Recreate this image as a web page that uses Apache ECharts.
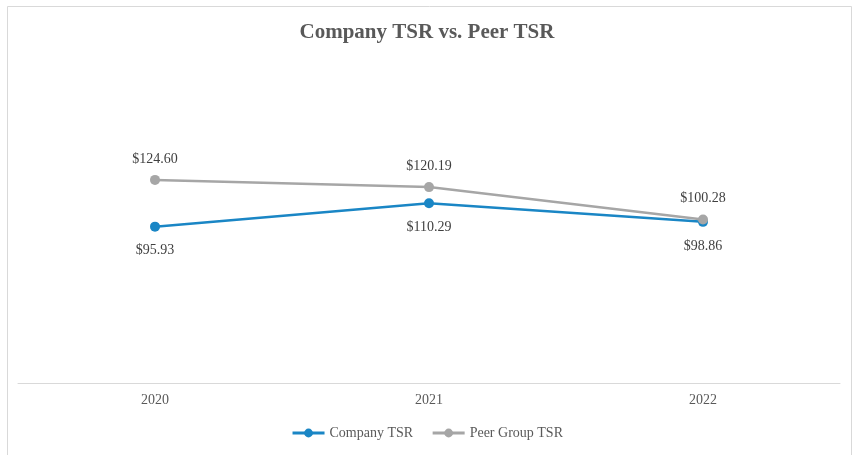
<!DOCTYPE html>
<html>
<head>
<meta charset="utf-8">
<title>Company TSR vs. Peer TSR</title>
<script src="https://cdn.jsdelivr.net/npm/echarts@6/dist/echarts.min.js"></script>
<style>
  html, body { margin: 0; padding: 0; background: #fff; }
  #chart { width: 854px; height: 455px; }
</style>
</head>
<body>
<div id="chart"></div>
<script>
const years = ['2020', '2021', '2022']
const companyTsr = [95.93, 110.29, 98.86]
const peerTsr = [124.60, 120.19, 100.28]

const serif = '"Liberation Serif", "Times New Roman", serif'
const money = p => '$' + p.value.toFixed(2)

let myChart = echarts.init(document.getElementById('chart'))
myChart.setOption({
  backgroundColor: '#fff',
  animation: false,
  graphic: [{
    type: 'rect',
    shape: { x: 7.5, y: 6.5, width: 844, height: 470 },
    style: { fill: 'none', stroke: '#d9d9d9', lineWidth: 1 },
    silent: true
  }],
  title: {
    text: 'Company TSR vs. Peer TSR',
    left: 'center',
    top: 17,
    textStyle: {
      fontFamily: serif,
      fontSize: 21,
      fontWeight: 'bold',
      color: '#595959'
    }
  },
  grid: {
    top: 57,
    left: 18,
    right: 14,
    bottom: 72,
    containLabel: false
  },
  legend: {
    bottom: 10,
    left: 'center',
    itemWidth: 32,
    itemHeight: 11,
    itemGap: 18,
    lineStyle: { width: 3 },
    textStyle: { fontFamily: serif, fontSize: 14, color: '#595959' },
    data: ['Company TSR', 'Peer Group TSR']
  },
  xAxis: {
    type: 'category',
    data: years,
    boundaryGap: true,
    axisTick: { show: false },
    axisLine: { show: true, lineStyle: { color: '#d9d9d9', width: 1 } },
    axisLabel: { fontFamily: serif, fontSize: 14, color: '#595959', margin: 10 }
  },
  yAxis: {
    type: 'value',
    min: 0,
    max: 200,
    show: false,
    splitLine: { show: false }
  },
  series: [
    {
      name: 'Company TSR',
      type: 'line',
      data: companyTsr,
      color: '#1a86c5',
      symbol: 'circle',
      symbolSize: 10,
      lineStyle: { width: 2.5 },
      label: {
        show: true,
        position: 'bottom',
        distance: 12,
        formatter: money,
        fontFamily: serif,
        fontSize: 14,
        color: '#404040'
      }
    },
    {
      name: 'Peer Group TSR',
      type: 'line',
      data: peerTsr,
      color: '#a6a6a6',
      symbol: 'circle',
      symbolSize: 10,
      lineStyle: { width: 2.5 },
      label: {
        show: true,
        position: 'top',
        distance: 9,
        formatter: money,
        fontFamily: serif,
        fontSize: 14,
        color: '#404040'
      }
    }
  ]
})
window.onresize = function () {
  myChart.resize()
}
</script>
</body>
</html>
